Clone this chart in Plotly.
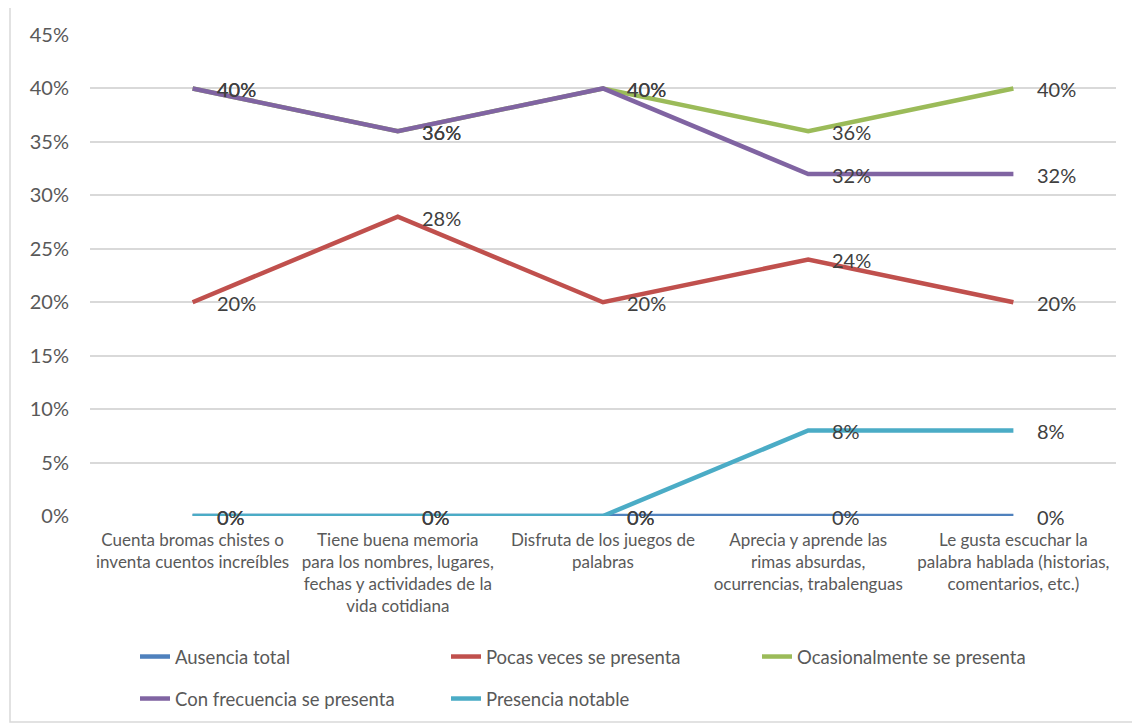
import plotly.graph_objects as go

categories = [
    "Cuenta bromas chistes o<br>inventa cuentos increíbles",
    "Tiene buena memoria<br>para los nombres, lugares,<br>fechas y actividades de la<br>vida cotidiana",
    "Disfruta de los juegos de<br>palabras",
    "Aprecia y aprende las<br>rimas absurdas,<br>ocurrencias, trabalenguas",
    "Le gusta escuchar la<br>palabra hablada (historias,<br>comentarios, etc.)",
]
series_names = [
    "Ausencia total",
    "Pocas veces se presenta",
    "Ocasionalmente se presenta",
    "Con frecuencia se presenta",
    "Presencia notable",
]
ausencia = [0, 0, 0, 0, 0]
pocas = [20, 28, 20, 24, 20]
ocasional = [40, 36, 40, 36, 40]
frecuencia = [40, 36, 40, 32, 32]
notable = [0, 0, 0, 8, 8]
series_values = [ausencia, pocas, ocasional, frecuencia, notable]
colors = ["#4F81BD", "#C0504D", "#9BBB59", "#8064A2", "#4BACC6"]
legend_ids = ["legend", "legend", "legend", "legend2", "legend2"]
y_ticks = [0, 5, 10, 15, 20, 25, 30, 35, 40, 45]

FONT = "Lato"
xs = list(range(len(categories)))

fig = go.Figure()
for name, vals, col, lg in zip(series_names, series_values, colors, legend_ids):
    fig.add_trace(go.Scatter(
        x=xs, y=vals, name=name, mode="lines",
        line=dict(color=col, width=4.5),
        legend=lg,
    ))

annotations = []
for vals in series_values:
    for x, v in zip(xs, vals):
        annotations.append(dict(
            x=x, y=v, xref="x", yref="y", text=f"{v}%",
            showarrow=False, xanchor="left", yanchor="middle",
            xshift=22, yshift=-1,
            font=dict(family=FONT, size=20, color="#404040"),
        ))

# screen geometry (page body has an 8px offset)
PL, PR, PT, PB = 90, 1116, 35, 516
PW, PH = PR - PL, PB - PT

fig.update_layout(
    width=1140, height=723,
    margin=dict(l=PL - 8, r=1140 - (PR - 8), t=PT - 8, b=723 - (PB - 8), autoexpand=False),
    paper_bgcolor="white", plot_bgcolor="white",
    showlegend=True,
    annotations=annotations,
    xaxis=dict(
        tickmode="array", tickvals=xs, ticktext=categories,
        range=[-0.5, 4.5], showgrid=False, zeroline=False,
        showline=False, ticks="",
        tickfont=dict(family=FONT, size=17, color="#595959"),
        tickangle=0, ticklabelstandoff=12,
    ),
    yaxis=dict(
        range=[0, 45], tickvals=y_ticks,
        ticktext=[f"{t}%" for t in y_ticks],
        showgrid=True, gridcolor="#D9D9D9", gridwidth=2,
        zeroline=False, showline=False, ticks="",
        tickfont=dict(family=FONT, size=20, color="#595959"),
        ticklabelstandoff=20,
    ),
    legend=dict(
        orientation="h", x=(135 - PL) / PW, y=-(657 - PB) / PH,
        xanchor="left", yanchor="middle",
        entrywidth=266, entrywidthmode="pixels",
        font=dict(family=FONT, size=18.5, color="#595959"),
        bgcolor="rgba(0,0,0,0)",
    ),
    legend2=dict(
        orientation="h", x=(135 - PL) / PW, y=-(699 - PB) / PH,
        xanchor="left", yanchor="middle",
        entrywidth=266, entrywidthmode="pixels",
        font=dict(family=FONT, size=18.5, color="#595959"),
        bgcolor="rgba(0,0,0,0)",
    ),
    shapes=[dict(
        type="rect", xref="paper", yref="paper",
        x0=(10 - PL) / PW, x1=(1139 - PL) / PW,
        y0=(PB - 722) / PH, y1=(PB - 7) / PH,
        line=dict(color="#D9D9D9", width=1.5), layer="below",
    )],
)

fig.write_html("out.html")
